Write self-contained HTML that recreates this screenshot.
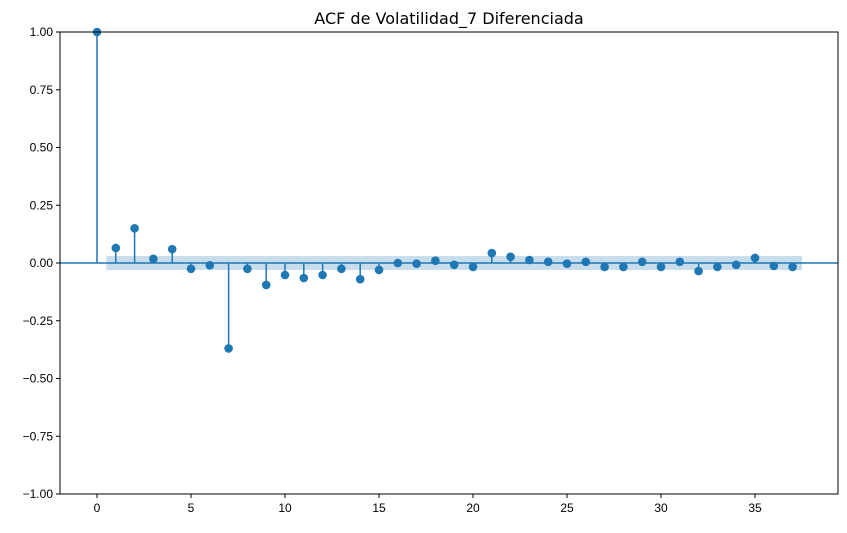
<!DOCTYPE html>
<html><head><meta charset="utf-8"><style>
body{margin:0;background:#fff;font-family:"Liberation Sans",sans-serif}
svg text{font-family:"Liberation Sans",sans-serif;fill:#000}
</style></head><body>
<svg id="chart" width="847" height="528">
<text x="449" y="24" font-size="16" text-anchor="middle" style="font-family:'DejaVu Sans',sans-serif">ACF de Volatilidad_7 Diferenciada</text>
<g id="plot"></g>
</svg>
<script>
const lags=[0,1,2,3,4,5,6,7,8,9,10,11,12,13,14,15,16,17,18,19,20,21,22,23,24,25,26,27,28,29,30,31,32,33,34,35,36,37];
const acf=[1,0.065,0.15,0.018,0.06,-0.025,-0.01,-0.37,-0.025,-0.095,-0.052,-0.065,-0.052,-0.025,-0.07,-0.03,0,-0.003,0.01,-0.008,-0.017,0.043,0.027,0.013,0.005,-0.003,0.005,-0.017,-0.017,0.005,-0.017,0.005,-0.035,-0.017,-0.008,0.022,-0.013,-0.017];
const confBand=0.03;
const xTicks=[0,5,10,15,20,25,30,35];
const yTicks=[-1,-0.75,-0.5,-0.25,0,0.25,0.5,0.75,1];
const yTickLabels=["−1.00","−0.75","−0.50","−0.25","0.00","0.25","0.50","0.75","1.00"];
const L=60,R=838,T=32,B=494;
const xs=v=>97+v*18.8;
const ys=v=>263-v*231;
const NS="http://www.w3.org/2000/svg";
const g=document.getElementById('plot');
function mk(t,a){const e=document.createElementNS(NS,t);for(const k in a)e.setAttribute(k,a[k]);g.appendChild(e);return e;}
let band=mk('rect',{x:xs(0.5),y:ys(confBand),width:xs(37.5)-xs(0.5),height:ys(-confBand)-ys(confBand),fill:'#1f77b4','fill-opacity':0.25});


let zl=mk('line',{x1:L,x2:R,y1:ys(0),y2:ys(0),stroke:'#1f77b4','stroke-width':1.5});


lags.forEach((l,i)=>{
 const s=mk('line',{x1:xs(l),x2:xs(l),y1:ys(0),y2:ys(acf[i]),stroke:'#1f77b4','stroke-width':1.5});
 
 
 const c=mk('circle',{cx:xs(l),cy:ys(acf[i]),r:4.3,fill:'#1f77b4'});
 
 
});
let fr=mk('rect',{x:L,y:T,width:R-L,height:B-T,fill:'none',stroke:'#000','stroke-width':1});


xTicks.forEach(t=>{
 mk('line',{x1:xs(t),x2:xs(t),y1:B,y2:B+4,stroke:'#000'});
 const tx=mk('text',{x:xs(t),y:B+18,'font-size':12,'text-anchor':'middle'});tx.textContent=t;
 
 
});
yTicks.forEach((t,i)=>{
 mk('line',{x1:L-4,x2:L,y1:ys(t),y2:ys(t),stroke:'#000'});
 const tx=mk('text',{x:L-7,y:ys(t)+4,'font-size':12,'text-anchor':'end'});tx.textContent=yTickLabels[i];
 
 
});
</script>
</body></html>
